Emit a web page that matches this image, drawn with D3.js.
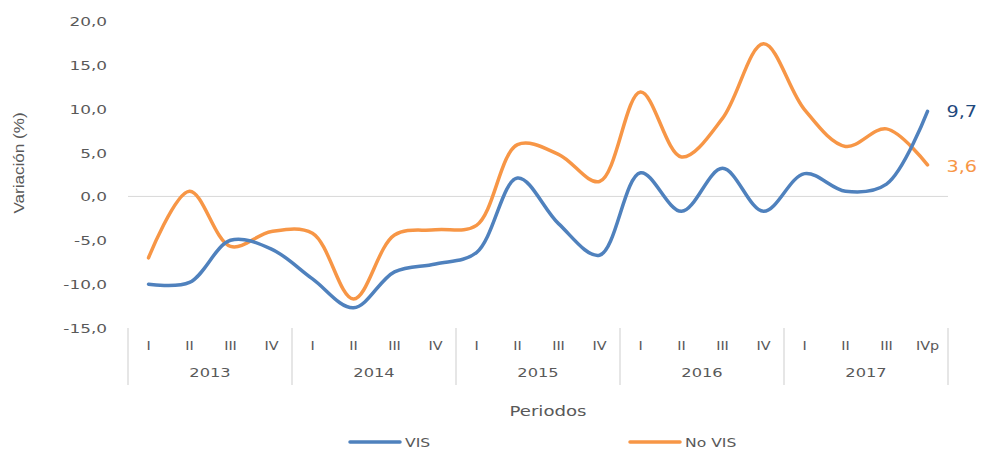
<!DOCTYPE html>
<html>
<head>
<meta charset="utf-8">
<script src="https://cdn.jsdelivr.net/npm/d3@7"></script>
<style>
  body { margin: 0; background: #fff; }
  text { font-family: "DejaVu Sans", sans-serif; fill: #595959; }
</style>
</head>
<body>
<svg id="chart"></svg>
<script>
const years = ["2013", "2014", "2015", "2016", "2017"];
const quarters = ["I", "II", "III", "IV"];
const lastQuarter = "IVp";
const vis = [-10.0, -9.8, -5.0, -6.0, -9.4, -12.7, -8.6, -7.7, -6.4, 2.1, -3.1, -6.7, 2.7, -1.7, 3.2, -1.7, 2.6, 0.6, 1.4, 9.7];
const noVis = [-7.0, 0.6, -5.7, -4.0, -4.2, -11.7, -4.4, -3.8, -3.3, 5.9, 4.8, 1.7, 11.9, 4.5, 8.9, 17.4, 9.9, 5.7, 7.7, 3.6];
const yTicks = [20, 15, 10, 5, 0, -5, -10, -15];

const width = 984;
const height = 449;
const sx = 1.3; // horizontal stretch of the text in the picture

const svg = d3.select("#chart")
    .attr("width", width)
    .attr("height", height);

// one category per quarter, last one is provisional
const cats = [];
years.forEach((yr, i) => {
    quarters.forEach((q, j) => {
        const isLast = i === years.length - 1 && j === quarters.length - 1;
        cats.push({ key: yr + "-" + q, year: yr, label: isLast ? lastQuarter : q });
    });
});

const x = d3.scaleBand()
    .domain(cats.map(d => d.key))
    .range([128, 948]);

const y = d3.scaleLinear()
    .domain([-15, 20])
    .range([328, 21]);

const fmt = v => d3.format(".1f")(v).replace(".", ",").replace("−", "-");

function stretchedText(g, tx, ty, str, anchor, size, scale) {
    return g.append("text")
        .attr("transform", `translate(${tx},${ty}) scale(${scale || sx},1)`)
        .attr("text-anchor", anchor)
        .style("font-size", size + "px")
        .text(str);
}

// y tick labels
const yAxis = svg.append("g");
yTicks.forEach(t => {
    stretchedText(yAxis, 107, y(t) + 5, fmt(t), "end", 13);
});

// zero line
svg.append("line")
    .attr("x1", x.range()[0]).attr("x2", x.range()[1])
    .attr("y1", y(0)).attr("y2", y(0))
    .attr("stroke", "#d9d9d9")
    .attr("stroke-width", 1);

// category axis: quarter labels, year labels, separators
const catAxis = svg.append("g");
cats.forEach(d => {
    stretchedText(catAxis, x(d.key) + x.bandwidth() / 2, 350, d.label, "middle", 11.5, 1.25);
});
const yearStarts = years.map(yr => x(yr + "-I"));
yearStarts.concat([x.range()[1]]).forEach(px => {
    catAxis.append("line")
        .attr("x1", px).attr("x2", px)
        .attr("y1", 328).attr("y2", 385)
        .attr("stroke", "#d9d9d9")
        .attr("stroke-width", 1.3);
});
years.forEach((yr, i) => {
    const cx = yearStarts[i] + x.bandwidth() * 2;
    stretchedText(catAxis, cx, 377, yr, "middle", 12.5);
});

// axis titles
stretchedText(svg, 548, 416, "Periodos", "middle", 14.5, 1.25);
svg.append("text")
    .attr("transform", "translate(24,163) rotate(-90) scale(1.22,1)")
    .attr("text-anchor", "middle")
    .style("font-family", "'Liberation Sans', sans-serif")
    .style("font-size", "14px")
    .text("Variación (%)");

// lines
const line = d3.line()
    .x((d, i) => x(cats[i].key) + x.bandwidth() / 2)
    .y(d => y(d))
    .curve(d3.curveCatmullRom.alpha(0.5));

svg.append("path")
    .datum(noVis)
    .attr("d", line)
    .attr("fill", "none")
    .attr("stroke", "#f79646")
    .attr("stroke-width", 3.5)
    .attr("stroke-linecap", "round");

svg.append("path")
    .datum(vis)
    .attr("d", line)
    .attr("fill", "none")
    .attr("stroke", "#4f81bd")
    .attr("stroke-width", 3.5)
    .attr("stroke-linecap", "round");

// end labels
const lastX = x(cats[cats.length - 1].key) + x.bandwidth() / 2;
stretchedText(svg, lastX + 19, y(vis[vis.length - 1]) + 6, fmt(vis[vis.length - 1]), "start", 16, 1.2)
    .style("fill", "#1f497d");
stretchedText(svg, lastX + 19, y(noVis[noVis.length - 1]) + 7, fmt(noVis[noVis.length - 1]), "start", 16, 1.2)
    .style("fill", "#f79646");

// legend
const legend = svg.append("g");
[["VIS", "#4f81bd", 350], ["No VIS", "#f79646", 630]].forEach(([name, color, lx]) => {
    legend.append("line")
        .attr("x1", lx).attr("x2", lx + 50)
        .attr("y1", 442).attr("y2", 442)
        .attr("stroke", color)
        .attr("stroke-width", 3.5)
        .attr("stroke-linecap", "round");
    stretchedText(legend, lx + 55, 447, name, "start", 13, 1.2);
});
</script>
</body>
</html>
